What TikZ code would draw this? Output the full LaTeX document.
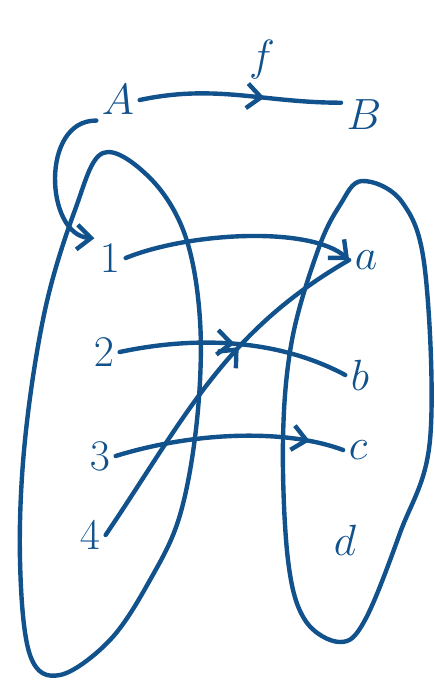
\documentclass[tikz,border=0pt]{standalone}
\usepackage{amsmath}
\usepackage{tikz}
\usetikzlibrary{arrows.meta,decorations.markings}
\definecolor{ink}{RGB}{18,82,140}

\begin{document}
\begin{tikzpicture}[
      x=0.02cm, y=-0.02cm, % pixel-like units
      elem/.style={
          text=ink,
          inner sep=3pt,
          font=\fontsize{30}{34}\selectfont
      },
      line/.style={color=ink, line width=2.5pt, line cap=round, line join=round},
      tip/.style={-{Straight Barb[length=8pt,width=14pt]}},
      midtip/.style={postaction={decorate}, decoration={markings,
          mark=at position #1 with {\arrow{Straight Barb[length=8pt,width=14pt]}}}}
  ]
      \useasboundingbox (0,0) rectangle (434,681);

      % Sets
      \draw [line] plot[smooth cycle, tension=0.6] coordinates {
          (103,153) (150,178) (185,235) (200,320) (197,420) (180,515) (150,580)
          (110,640) (60,675) (30,655) (20,560) (25,440) (45,310) (75,210)};
      \draw [line] plot[smooth cycle, tension=0.6] coordinates {
          (362,181) (402,202) (425,270) (430,440) (400,533) (365,620) (340,642)
          (305,620) (288,560) (283,440) (292,340) (318,250) (340,205)};

      % Nodes
      \node (setA) [elem] at (118,100) {$A$};
      \node (setB) [elem] at (364,115) {$B$};
      \node (one) [elem] at (110,258) {$1$};
      \node (two) [elem] at (104,352) {$2$};
      \node (three) [elem] at (100,456) {$3$};
      \node (four) [elem] at (90,535) {$4$};
      \node (ela) [elem] at (366,260) {$a$};
      \node (elb) [elem] at (360,375) {$b$};
      \node (elc) [elem] at (358,450) {$c$};
      \node (eld) [elem] at (345,540) {$d$};

      % Arrows
      \draw [line, midtip=0.62] (setA.east) to[out=12, in=180]
          node[elem, pos=0.62, above=6pt] (map) {$f$} ([yshift=7pt]setB.west);
      \draw [line, tip] (setA.south west) .. controls (40,120) and (45,235) .. (one.north west);
      \draw [line, tip] (one.east) .. controls (190,232) and (310,226) .. (ela.west);
      \draw [line, midtip=0.5] (two.east) .. controls (200,335) and (280,340) .. (elb.west);
      \draw [line, midtip=0.85] (three.east) .. controls (200,430) and (290,430) .. (elc.west);
      \draw [line, midtip=0.62] (four.east) to[out=56, in=210] (ela.west);
  \end{tikzpicture}
\end{document}
